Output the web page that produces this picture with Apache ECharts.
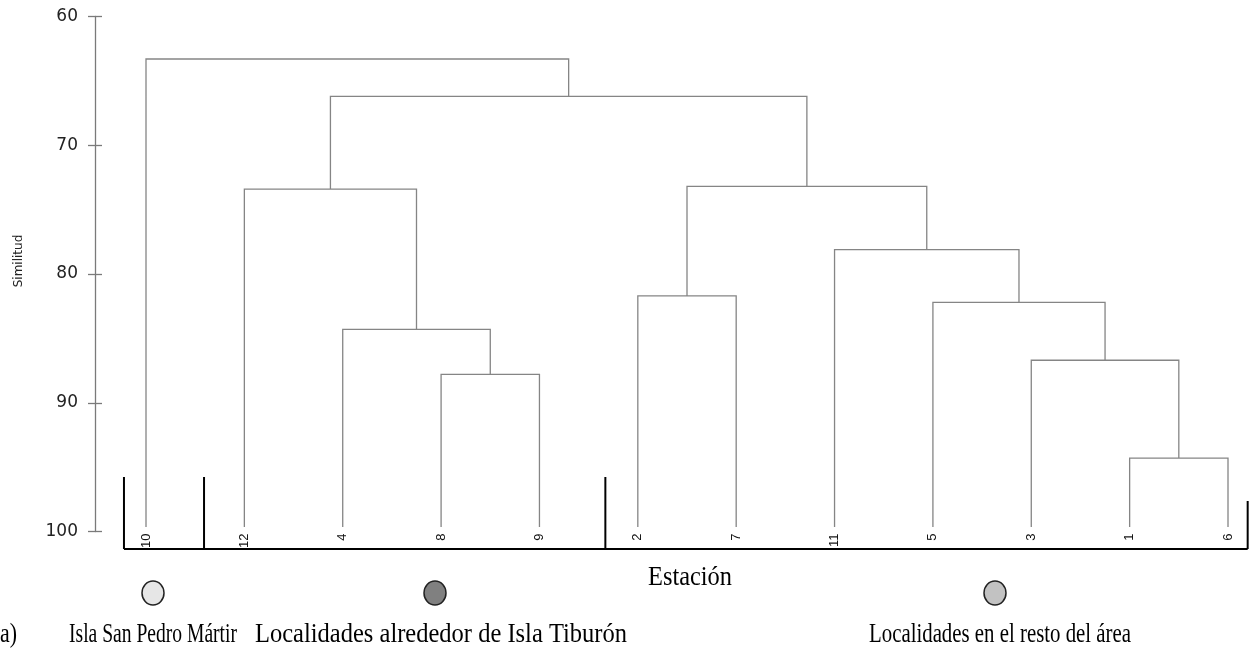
<!DOCTYPE html>
<html><head><meta charset="utf-8">
<script src="https://cdn.jsdelivr.net/npm/echarts@6/dist/echarts.min.js"></script>
<style>html,body{margin:0;padding:0;background:#fff}#c{width:1252px;height:661px}</style>
</head><body><div id="c"></div>
<script>
// ---- data ----
const leaves = ['10','12','4','8','9','2','7','11','5','3','1','6'];
// merges (dendrogram joins): child A, child B, similarity level
const mergeA = ['8',  '4',  '12', '2',  '1',  '3',  '5',  '11', 'm3', 'm2', '10'];
const mergeB = ['9',  'm0', 'm1', '7',  '6',  'm4', 'm5', 'm6', 'm7', 'm8', 'm9'];
const mergeH = [87.8, 84.3, 73.4, 81.7, 94.3, 86.7, 82.2, 78.1, 73.2, 66.2, 63.3];
const leafBase = 99.65;
const yTickValues = [60, 70, 80, 90, 100];
const groupNames = ['Isla San Pedro Mártir', 'Localidades alrededor de Isla Tiburón', 'Localidades en el resto del área'];
const groupColors = ['#e6e6e6', '#808080', '#c2c2c2'];

const chart = echarts.init(document.getElementById('c'), null, {renderer: 'canvas'});

function nodePos(id, api) {
  const li = leaves.indexOf(id);
  if (li >= 0) return {x: api.coord([li, 100])[0], h: leafBase};
  const k = parseInt(id.slice(1), 10);
  const a = nodePos(mergeA[k], api), b = nodePos(mergeB[k], api);
  return {x: (a.x + b.x) / 2, h: mergeH[k]};
}

function renderItem(params, api) {
  const k = params.dataIndex;
  const a = nodePos(mergeA[k], api), b = nodePos(mergeB[k], api);
  const yOf = v => api.coord([0, v])[1];
  const yh = yOf(mergeH[k]);
  return {
    type: 'polyline',
    shape: {points: [[a.x, yOf(a.h)], [a.x, yh], [b.x, yh], [b.x, yOf(b.h)]]},
    style: {stroke: '#858585', lineWidth: 1.3, fill: null}
  };
}

const option = {
  animation: false,
  backgroundColor: '#fff',
  grid: {left: 146, right: 24, top: 16.5, bottom: 129.5},
  xAxis: {
    type: 'category', data: leaves, boundaryGap: false,
    axisLine: {show: false}, axisTick: {show: false}, splitLine: {show: false},
    axisLabel: {rotate: 90, interval: 0, fontSize: 13, fontFamily: 'Liberation Sans', color: '#111', margin: 2}
  },
  yAxis: [{
    type: 'value', min: 60, max: 100, interval: 10, inverse: true, offset: 51,
    axisLine: {show: true, lineStyle: {color: '#7a7a7a', width: 1.3}},
    axisTick: {show: true, length: 7, lineStyle: {color: '#7a7a7a', width: 1.3}},
    axisLabel: {fontSize: 17, fontFamily: 'DejaVu Sans', color: '#222', margin: 17,
      formatter: v => yTickValues.includes(v) ? String(v) : ''},
    splitLine: {show: false},
    name: 'Similitud', nameLocation: 'middle', nameGap: 70,
    nameTextStyle: {fontSize: 12, fontFamily: 'DejaVu Sans', color: '#222', padding: [0, 0, 0, 26]}
  }, {
    type: 'value', min: 60, max: 100, interval: 10, inverse: true, offset: 51, position: 'left',
    axisLine: {show: false}, axisLabel: {show: false}, splitLine: {show: false},
    axisTick: {show: true, inside: true, length: 7, lineStyle: {color: '#7a7a7a', width: 1.3}}
  }],
  series: [{
    type: 'custom', renderItem: renderItem, clip: false,
    data: mergeH.map((h, i) => [i, h])
  }]
};
chart.setOption(option);

// ---- decorations: group brackets and group legend ----
function fitScale(text, font, width) {
  const ctx = document.createElement('canvas').getContext('2d');
  ctx.font = font;
  return width / ctx.measureText(text).width;
}
const lx = i => chart.convertToPixel({xAxisIndex: 0}, i);
const step = lx(1) - lx(0);
const bx = [lx(0) - 0.224 * step, lx(0) + 0.59 * step, lx(4) + 0.67 * step, lx(11) + 0.2 * step];
const yTop = 477, yRightTop = 501, yBase = 549;
const bracket = {stroke: '#000', lineWidth: 2};
const serif = 'Liberation Serif';
const fs = 28;
const fontStr = fs + 'px "' + serif + '"';
const elements = [
  {type: 'line', shape: {x1: bx[0], y1: yBase, x2: bx[3], y2: yBase}, style: bracket},
  {type: 'line', shape: {x1: bx[0], y1: yTop, x2: bx[0], y2: yBase}, style: bracket},
  {type: 'line', shape: {x1: bx[1], y1: yTop, x2: bx[1], y2: yBase}, style: bracket},
  {type: 'line', shape: {x1: bx[2], y1: yTop, x2: bx[2], y2: yBase}, style: bracket},
  {type: 'line', shape: {x1: bx[3], y1: yRightTop, x2: bx[3], y2: yBase}, style: bracket},
  {type: 'text', x: 690, y: 578, scaleX: fitScale('Estación', fontStr, 84),
    style: {text: 'Estación', font: fontStr, fill: '#000', textAlign: 'center', textVerticalAlign: 'middle'}},
  {type: 'text', x: 0, y: 635, scaleX: fitScale('a)', fontStr, 17),
    style: {text: 'a)', font: fontStr, fill: '#000', textAlign: 'left', textVerticalAlign: 'middle'}}
];
const circX = [153, 435, 995];
const textX = [153, 441, 1000];
const textW = [168, 372, 262];
groupNames.forEach((n, i) => {
  elements.push({type: 'ellipse', shape: {cx: circX[i], cy: 593, rx: 11, ry: 12},
    style: {fill: groupColors[i], stroke: '#222', lineWidth: 1.5}});
  elements.push({type: 'text', x: textX[i], y: 635, scaleX: fitScale(n, fontStr, textW[i]),
    style: {text: n, font: fontStr, fill: '#000', textAlign: 'center', textVerticalAlign: 'middle'}});
});
chart.setOption({graphic: {elements: elements}});
</script></body></html>
